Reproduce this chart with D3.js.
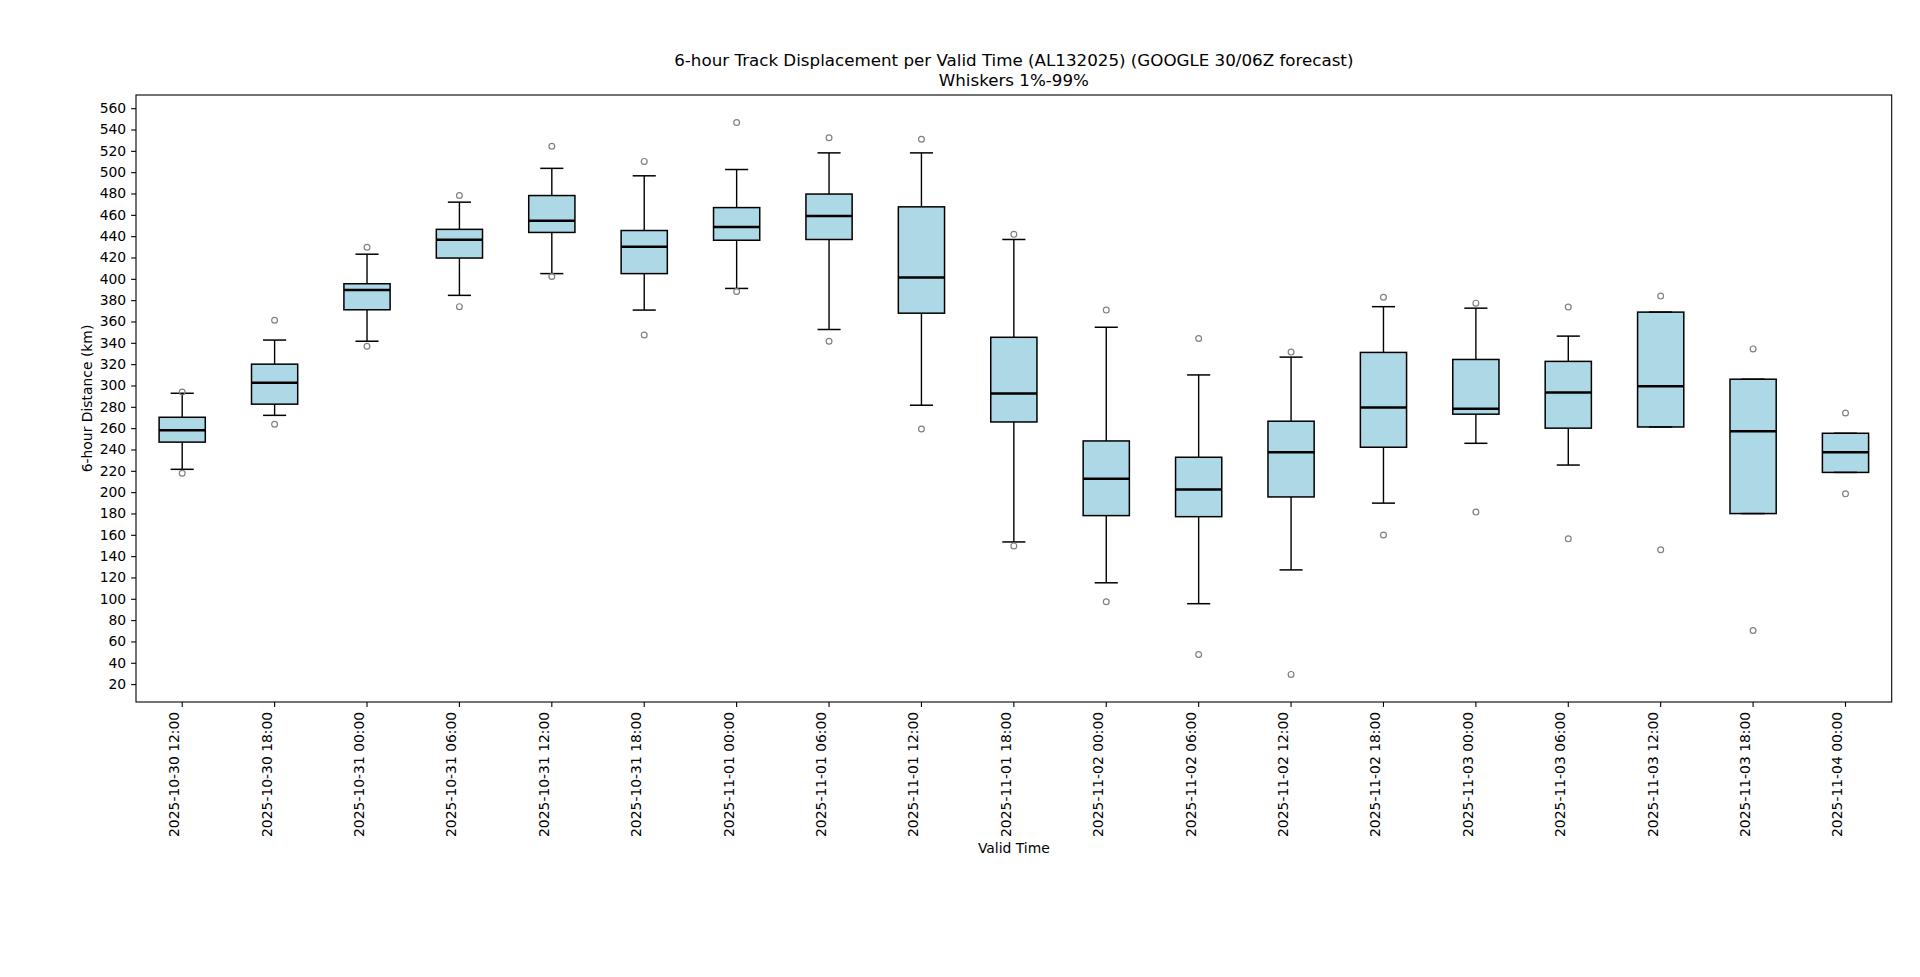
<!DOCTYPE html>
<html>
<head>
<meta charset="utf-8">
<script src="https://cdn.jsdelivr.net/npm/d3@7"></script>
<style>
  html, body { margin: 0; padding: 0; background: #fff; overflow: hidden; }
  svg { display: block; }
  text { font-family: "DejaVu Sans", sans-serif; fill: #000; }
  .tick text { font-size: 13.9px; }
  .axis-label { font-size: 13.9px; }
  .title { font-size: 16.7px; }
</style>
</head>
<body>
<div id="boxchart"></div>
<script>
const validTimes = [
  "2025-10-30 12:00", "2025-10-30 18:00", "2025-10-31 00:00", "2025-10-31 06:00",
  "2025-10-31 12:00", "2025-10-31 18:00", "2025-11-01 00:00", "2025-11-01 06:00",
  "2025-11-01 12:00", "2025-11-01 18:00", "2025-11-02 00:00", "2025-11-02 06:00",
  "2025-11-02 12:00", "2025-11-02 18:00", "2025-11-03 00:00", "2025-11-03 06:00",
  "2025-11-03 12:00", "2025-11-03 18:00", "2025-11-04 00:00"
];
const whiskerLow  = [221.4, 272.0, 341.5, 384.5, 404.9, 370.7, 391.0, 352.5, 281.5, 153.3, 115.0, 95.4, 127.1, 189.7, 245.8, 225.4, 261.1, 179.9, 218.5];
const q1          = [246.9, 282.5, 371.0, 419.5, 443.5, 404.9, 436.2, 436.9, 367.8, 265.8, 178.0, 177.0, 195.5, 242.1, 273.1, 260.0, 261.1, 179.9, 218.5];
const medians     = [258.1, 302.6, 389.6, 436.6, 454.4, 430.0, 448.6, 458.8, 401.2, 292.4, 212.6, 202.4, 237.4, 279.3, 278.2, 293.5, 299.3, 257.1, 237.4];
const q3          = [270.2, 320.0, 395.4, 446.4, 478.1, 445.3, 466.8, 479.5, 467.5, 345.2, 248.0, 232.7, 266.5, 331.0, 324.4, 322.6, 368.8, 305.9, 255.2];
const whiskerHigh = [292.7, 342.6, 423.1, 471.9, 503.6, 496.6, 502.5, 518.1, 518.1, 436.9, 354.6, 309.9, 326.6, 373.9, 372.5, 346.3, 368.8, 305.9, 255.2];
const flierLow    = [217.7, 263.6, 336.8, 373.9, 402.3, 347.4, 388.1, 341.5, 259.2, 149.6, 97.2, 47.7, 29.1, 159.8, 181.3, 156.2, 146.0, 70.3, 198.4];
const flierHigh   = [293.8, 361.2, 429.6, 478.1, 524.3, 510.1, 546.5, 532.3, 530.9, 441.7, 370.7, 344.1, 331.3, 382.7, 377.2, 373.6, 383.8, 334.3, 274.2];
const yTicks = d3.range(20, 561, 20);

const width = 1920, height = 977;
const margin = {left: 136, right: 28.3, top: 95, bottom: 275};
const innerWidth = width - margin.left - margin.right;
const innerHeight = height - margin.top - margin.bottom;

const svg = d3.select("#boxchart")
    .append("svg")
    .attr("width", width)
    .attr("height", height)
    .attr("viewBox", `0 0 ${width} ${height}`);

const innerChart = svg.append("g")
    .attr("transform", `translate(${margin.left}, ${margin.top})`);

const data = validTimes.map((t, i) => ({
    time: t, lo: whiskerLow[i], q1: q1[i], med: medians[i], q3: q3[i],
    hi: whiskerHigh[i], fliers: [flierLow[i], flierHigh[i]]
}));

// scales, y padded 5% like matplotlib autoscale
const xScale = d3.scaleBand()
    .domain(validTimes)
    .range([0, innerWidth])
    .padding(0);

const allVals = data.flatMap(d => [d.lo, d.hi, ...d.fliers]);
const [minV, maxV] = d3.extent(allVals);
const pad = (maxV - minV) * 0.05;
const yScale = d3.scaleLinear()
    .domain([minV - pad, maxV + pad])
    .range([innerHeight, 0]);

const bw = xScale.bandwidth();
const boxW = bw * 0.5;
const capW = bw * 0.25;
const cx = d => xScale(d.time) + bw / 2;

const groups = innerChart.selectAll("g.box")
    .data(data)
    .join("g")
    .attr("class", "box");

//whiskers
groups.append("line")
    .attr("x1", cx).attr("x2", cx)
    .attr("y1", d => yScale(d.q1)).attr("y2", d => yScale(d.lo))
    .attr("stroke", "#000").attr("stroke-width", 1.4);
groups.append("line")
    .attr("x1", cx).attr("x2", cx)
    .attr("y1", d => yScale(d.q3)).attr("y2", d => yScale(d.hi))
    .attr("stroke", "#000").attr("stroke-width", 1.4);

//boxes
groups.append("rect")
    .attr("x", d => cx(d) - boxW / 2)
    .attr("width", boxW)
    .attr("y", d => yScale(d.q3))
    .attr("height", d => yScale(d.q1) - yScale(d.q3))
    .attr("fill", "#add8e6")
    .attr("stroke", "#000")
    .attr("stroke-width", 1.5);

//caps
groups.selectAll("line.cap")
    .data(d => [d.lo, d.hi].map(v => ({v, c: cx(d)})))
    .join("line")
    .attr("class", "cap")
    .attr("x1", d => d.c - capW / 2).attr("x2", d => d.c + capW / 2)
    .attr("y1", d => yScale(d.v)).attr("y2", d => yScale(d.v))
    .attr("stroke", "#000").attr("stroke-width", 1.5);

//medians
groups.append("line")
    .attr("x1", d => cx(d) - boxW / 2).attr("x2", d => cx(d) + boxW / 2)
    .attr("y1", d => yScale(d.med)).attr("y2", d => yScale(d.med))
    .attr("stroke", "#000").attr("stroke-width", 2.5);

//fliers
groups.selectAll("circle")
    .data(d => d.fliers.map(v => ({v, c: cx(d)})))
    .join("circle")
    .attr("cx", d => d.c)
    .attr("cy", d => yScale(d.v))
    .attr("r", 2.9)
    .attr("fill", "none")
    .attr("stroke", "#808080")
    .attr("stroke-width", 1.2);

//axes
const leftAxis = d3.axisLeft(yScale)
    .tickValues(yTicks)
    .tickSize(4.9)
    .tickPadding(4.9)
    .tickSizeOuter(0);
const bottomAxis = d3.axisBottom(xScale)
    .tickSize(4.9)
    .tickPadding(4.9)
    .tickSizeOuter(0);

const gy = innerChart.append("g").call(leftAxis);
const gx = innerChart.append("g")
    .attr("transform", `translate(0, ${innerHeight})`)
    .call(bottomAxis);
[gx, gy].forEach(g => {
    g.select(".domain").remove();
    g.selectAll(".tick line").attr("stroke", "#000").attr("stroke-width", 1.1);
    g.selectAll(".tick text").attr("fill", "#000");
});
// labels are right-aligned to the tick, as in the original
gx.selectAll(".tick text")
    .attr("transform", "rotate(-90)")
    .attr("text-anchor", "end")
    .attr("dy", "0")
    .attr("x", -9.8)
    .attr("y", -3);

//frame
innerChart.append("rect")
    .attr("width", innerWidth)
    .attr("height", innerHeight)
    .attr("fill", "none")
    .attr("stroke", "#000")
    .attr("stroke-width", 1.1);

//labels
svg.append("text")
    .attr("class", "axis-label")
    .attr("text-anchor", "middle")
    .attr("x", margin.left + innerWidth / 2)
    .attr("y", 853)
    .text("Valid Time");

svg.append("text")
    .attr("class", "axis-label")
    .attr("text-anchor", "middle")
    .attr("transform", `translate(92, ${margin.top + innerHeight / 2}) rotate(-90)`)
    .text("6-hour Distance (km)");

svg.append("text")
    .attr("class", "title")
    .attr("text-anchor", "middle")
    .attr("x", margin.left + innerWidth / 2)
    .attr("y", 65.5)
    .text("6-hour Track Displacement per Valid Time (AL132025) (GOOGLE 30/06Z forecast)");
svg.append("text")
    .attr("class", "title")
    .attr("text-anchor", "middle")
    .attr("x", margin.left + innerWidth / 2)
    .attr("y", 86)
    .text("Whiskers 1%-99%");
</script>
</body>
</html>
